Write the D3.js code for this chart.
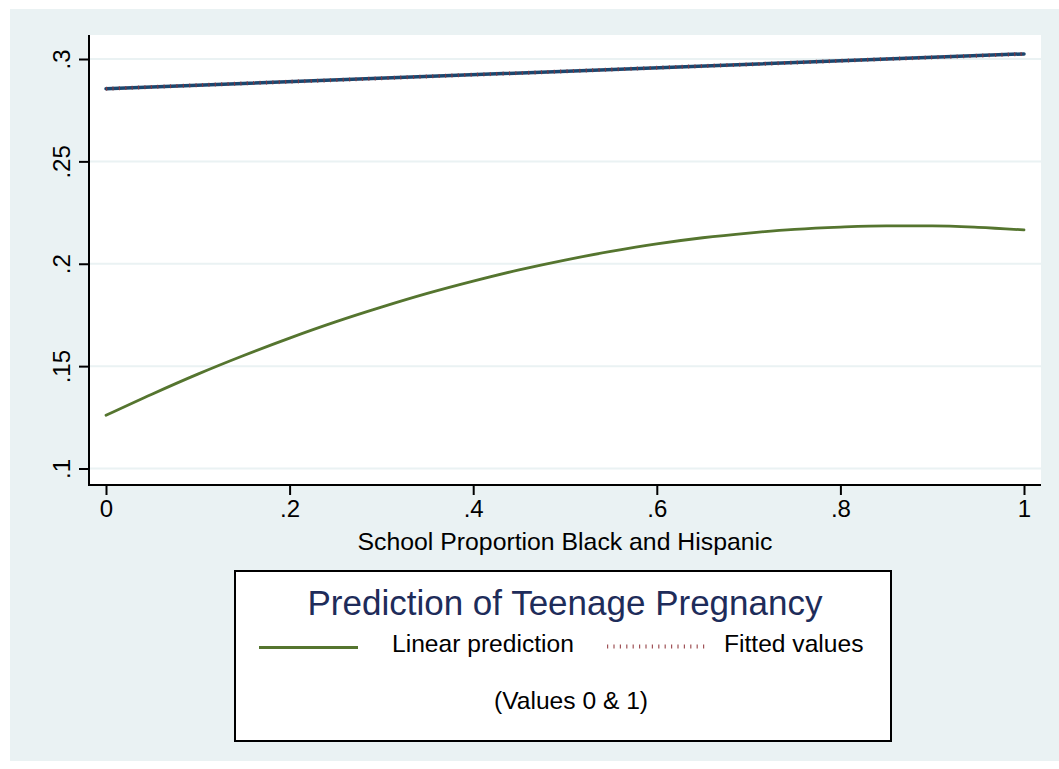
<!DOCTYPE html>
<html>
<head>
<meta charset="utf-8">
<script src="https://cdn.jsdelivr.net/npm/d3@7"></script>
<style>
  html, body { margin: 0; padding: 0; background: #ffffff; }
  svg { display: block; font-family: "Liberation Sans", Arial, Helvetica, sans-serif; }
</style>
</head>
<body>
<svg id="chart" width="1059" height="769"></svg>
<script>
// School share Black/Hispanic on the x axis
const xValues = [0, 0.05, 0.1, 0.15, 0.2, 0.25, 0.3, 0.35, 0.4, 0.45, 0.5,
                 0.55, 0.6, 0.65, 0.7, 0.75, 0.8, 0.85, 0.9, 0.95, 1];
// Predicted probability of teenage pregnancy (curved model)
const linearPrediction = [0.1260, 0.1363, 0.1461, 0.1552, 0.1637, 0.1716, 0.1788,
                          0.1855, 0.1915, 0.1970, 0.2018, 0.2060, 0.2097, 0.2127,
                          0.2150, 0.2168, 0.2179, 0.2185, 0.2185, 0.2178, 0.2165];
// Straight fit evaluated at the two end values 0 and 1
const fitX = [0, 1];
const fittedValues = [0.2855, 0.3025];

const xTicks = [0, 0.2, 0.4, 0.6, 0.8, 1];
const xTickLabels = ["0", ".2", ".4", ".6", ".8", "1"];
const yTicks = [0.1, 0.15, 0.2, 0.25, 0.3];
const yTickLabels = [".1", ".15", ".2", ".25", ".3"];

const xTitle = "School Proportion Black and Hispanic";
const legendTitle = "Prediction of Teenage Pregnancy";
const legendLabels = ["Linear prediction", "Fitted values"];
const legendNote = "(Values 0 & 1)";

const svg = d3.select("#chart");

const colors = {
  bg: "#eaf2f3",
  grid: "#eaf2f3",
  navy: "#1a476f",
  maroon: "#90353b",
  green: "#55752f",
  titleNavy: "#1e2c5a"
};

// Outer graph region
svg.append("rect").attr("x", 10).attr("y", 9).attr("width", 1049).attr("height", 752)
  .attr("fill", colors.bg);

const plot = { left: 89, right: 1041, top: 35, bottom: 485 };

svg.append("rect")
  .attr("x", plot.left).attr("y", plot.top)
  .attr("width", plot.right - plot.left).attr("height", plot.bottom - plot.top)
  .attr("fill", "#ffffff");

const x = d3.scaleLinear().domain([0, 1]).range([106, 1024]);
const y = d3.scaleLinear().domain([0.1, 0.3]).range([468.5, 59]);

// Horizontal grid lines
svg.append("g").selectAll("line").data(yTicks).join("line")
  .attr("x1", plot.left).attr("x2", plot.right)
  .attr("y1", d => y(d)).attr("y2", d => y(d))
  .attr("stroke", colors.grid).attr("stroke-width", 2);

// Y axis
const yAxis = d3.axisLeft(y).tickValues(yTicks).tickSize(10).tickPadding(0)
  .tickFormat((d, i) => yTickLabels[i]);
const gy = svg.append("g").attr("transform", `translate(${plot.left},0)`).call(yAxis);
gy.select(".domain").remove();
gy.selectAll(".tick line").attr("stroke", "#000").attr("stroke-width", 2);
gy.selectAll(".tick text")
  .attr("x", 0).attr("y", 0).attr("dy", 0)
  .attr("transform", "translate(-19,0) rotate(-90)")
  .attr("text-anchor", "middle")
  .attr("fill", "#000")
  .style("font-size", "24px");
svg.append("line")
  .attr("x1", plot.left).attr("x2", plot.left)
  .attr("y1", plot.top).attr("y2", plot.bottom + 1)
  .attr("stroke", "#000").attr("stroke-width", 2);

// X axis
const xAxis = d3.axisBottom(x).tickValues(xTicks).tickSize(10).tickPadding(0)
  .tickFormat((d, i) => xTickLabels[i]);
const gx = svg.append("g").attr("transform", `translate(0,${plot.bottom})`).call(xAxis);
gx.select(".domain").remove();
gx.selectAll(".tick line").attr("stroke", "#000").attr("stroke-width", 2);
gx.selectAll(".tick text")
  .attr("y", 32).attr("dy", 0)
  .attr("fill", "#000")
  .style("font-size", "24px");
svg.append("line")
  .attr("x1", plot.left - 1).attr("x2", plot.right)
  .attr("y1", plot.bottom).attr("y2", plot.bottom)
  .attr("stroke", "#000").attr("stroke-width", 2);

svg.append("text")
  .attr("x", 565).attr("y", 550)
  .attr("text-anchor", "middle")
  .style("font-size", "24.8px")
  .text(xTitle);

// Series
const line = d3.line().x(d => x(d[0])).y(d => y(d[1]));
const fitPts = fitX.map((v, i) => [v, fittedValues[i]]);
const curvePts = xValues.map((v, i) => [v, linearPrediction[i]]);

svg.append("path").datum(fitPts).attr("d", line)
  .attr("fill", "none").attr("stroke", colors.navy).attr("stroke-width", 3.5)
  .attr("stroke-linecap", "round");
svg.append("path").datum(fitPts).attr("d", line)
  .attr("fill", "none").attr("stroke", colors.maroon).attr("stroke-width", 4)
  .attr("stroke-dasharray", "1.2 5.2").attr("opacity", 0.85);

svg.append("path").datum(curvePts).attr("d", d3.line().curve(d3.curveMonotoneX)
    .x(d => x(d[0])).y(d => y(d[1])))
  .attr("fill", "none").attr("stroke", colors.green).attr("stroke-width", 2.8)
  .attr("stroke-linecap", "round");

// Legend
const lg = svg.append("g");
lg.append("rect").attr("x", 235).attr("y", 571).attr("width", 656).attr("height", 170)
  .attr("fill", "#fff").attr("stroke", "#000").attr("stroke-width", 2);
lg.append("text").attr("x", 565).attr("y", 615).attr("text-anchor", "middle")
  .attr("fill", colors.titleNavy).style("font-size", "35px").text(legendTitle);
lg.append("line").attr("x1", 259).attr("x2", 358).attr("y1", 647.5).attr("y2", 647.5)
  .attr("stroke", colors.green).attr("stroke-width", 2.8);
lg.append("text").attr("x", 392).attr("y", 652).style("font-size", "24.6px")
  .text(legendLabels[0]);
lg.append("line").attr("x1", 607).attr("x2", 707).attr("y1", 646.5).attr("y2", 646.5)
  .attr("stroke", colors.maroon).attr("stroke-width", 4)
  .attr("stroke-dasharray", "1.2 5.2").attr("opacity", 0.85);
lg.append("text").attr("x", 724).attr("y", 652).style("font-size", "24.6px")
  .text(legendLabels[1]);
lg.append("text").attr("x", 571).attr("y", 709).attr("text-anchor", "middle")
  .style("font-size", "24.6px").text(legendNote);
</script>
</body>
</html>
